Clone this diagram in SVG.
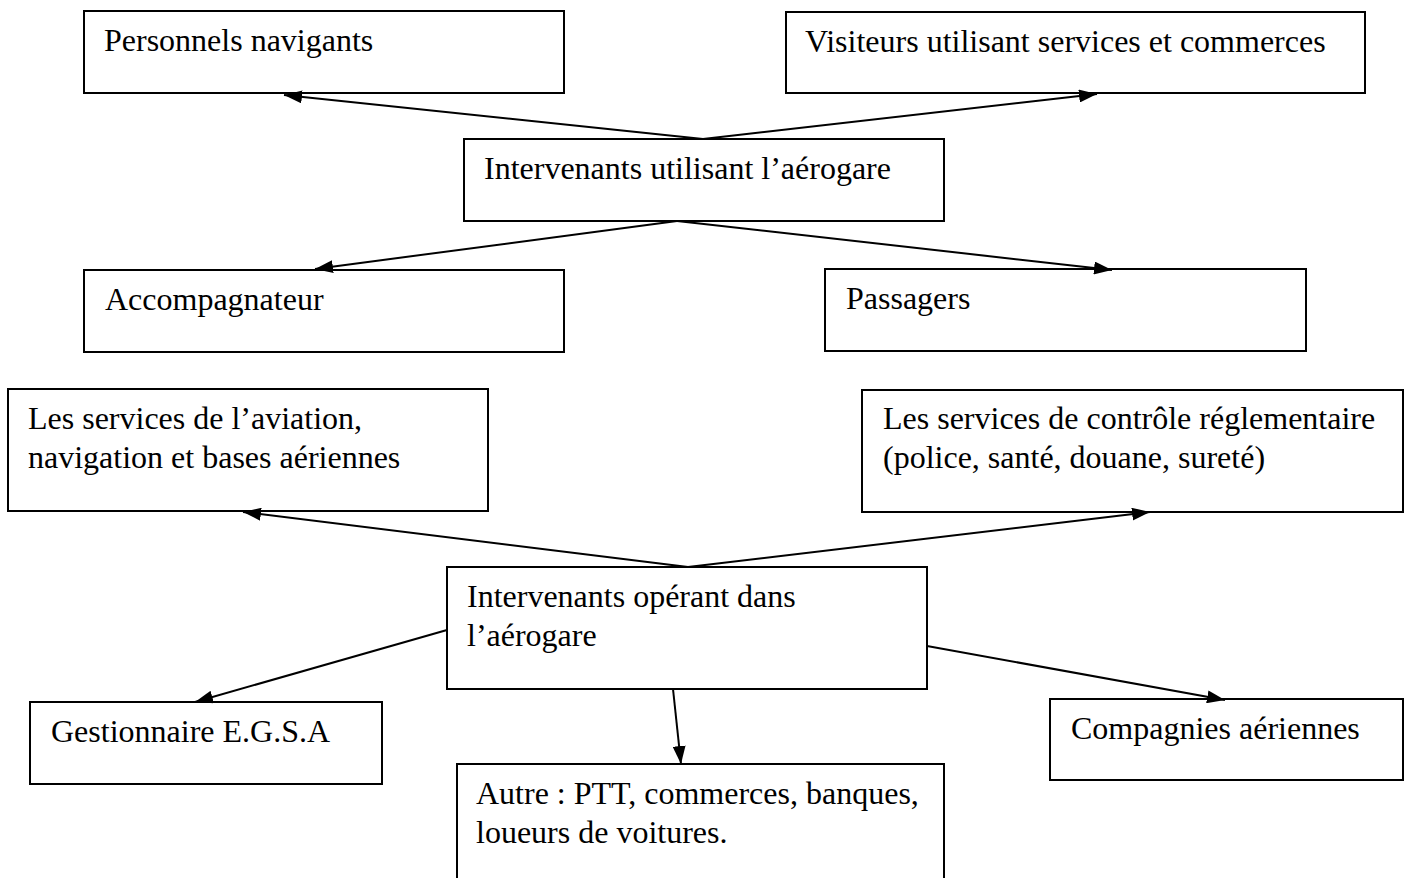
<svg xmlns="http://www.w3.org/2000/svg" width="1407" height="878" viewBox="0 0 1407 878">
  <style>
    .box { fill: #ffffff; stroke: #000000; stroke-width: 2; }
    .label { font-family: "Liberation Serif", "Times New Roman", serif; font-size: 32px; fill: #000000; }
    .link { fill: none; stroke: #000000; stroke-width: 2; marker-end: url(#arrow); }
  </style>
  <defs>
    <marker id="arrow" markerUnits="userSpaceOnUse" markerWidth="18" markerHeight="13" refX="18" refY="6.5" orient="auto">
      <path d="M0,0 L18,6.5 L0,13 z" fill="#000000"/>
    </marker>
  </defs>

  <rect width="1407" height="878" fill="#ffffff"/>

  <!-- users of the terminal -->
  <g id="personnels-navigants">
    <rect class="box" x="84" y="11" width="480" height="82"/>
    <text class="label" x="104" y="51">Personnels navigants</text>
  </g>
  <g id="visiteurs">
    <rect class="box" x="786" y="12" width="579" height="81"/>
    <text class="label" x="805" y="52">Visiteurs utilisant services et commerces</text>
  </g>
  <g id="intervenants-utilisant">
    <rect class="box" x="464" y="139" width="480" height="82"/>
    <text class="label" x="484" y="179">Intervenants utilisant l’aérogare</text>
  </g>
  <g id="accompagnateur">
    <rect class="box" x="84" y="270" width="480" height="82"/>
    <text class="label" x="105" y="310">Accompagnateur</text>
  </g>
  <g id="passagers">
    <rect class="box" x="825" y="269" width="481" height="82"/>
    <text class="label" x="846" y="309">Passagers</text>
  </g>

  <!-- operators in the terminal -->
  <g id="services-aviation">
    <rect class="box" x="8" y="389" width="480" height="122"/>
    <text class="label" x="28" y="429">Les services de l’aviation,</text>
    <text class="label" x="28" y="468">navigation et bases aériennes</text>
  </g>
  <g id="services-controle">
    <rect class="box" x="862" y="390" width="541" height="122"/>
    <text class="label" x="883" y="429">Les services de contrôle réglementaire</text>
    <text class="label" x="883" y="468">(police, santé, douane, sureté)</text>
  </g>
  <g id="intervenants-operant">
    <rect class="box" x="447" y="567" width="480" height="122"/>
    <text class="label" x="467" y="607">Intervenants opérant dans</text>
    <text class="label" x="467" y="646">l’aérogare</text>
  </g>
  <g id="gestionnaire">
    <rect class="box" x="30" y="702" width="352" height="82"/>
    <text class="label" x="51" y="742">Gestionnaire E.G.S.A</text>
  </g>
  <g id="compagnies">
    <rect class="box" x="1050" y="699" width="353" height="81"/>
    <text class="label" x="1071" y="739">Compagnies aériennes</text>
  </g>
  <g id="autre">
    <rect class="box" x="457" y="764" width="487" height="130"/>
    <text class="label" x="476" y="804">Autre : PTT, commerces, banques,</text>
    <text class="label" x="476" y="843">loueurs de voitures.</text>
  </g>

  <g id="connectors">
    <line class="link" x1="703" y1="139" x2="284" y2="95"/>
    <line class="link" x1="703" y1="139" x2="1097" y2="94"/>
    <line class="link" x1="677" y1="221" x2="315" y2="269"/>
    <line class="link" x1="677" y1="221" x2="1112" y2="270"/>
    <line class="link" x1="688" y1="567" x2="243" y2="512"/>
    <line class="link" x1="688" y1="567" x2="1150" y2="512"/>
    <line class="link" x1="447" y1="630" x2="195" y2="702"/>
    <line class="link" x1="927" y1="646" x2="1225" y2="700"/>
    <line class="link" x1="673" y1="689" x2="681" y2="764"/>
  </g>
</svg>
